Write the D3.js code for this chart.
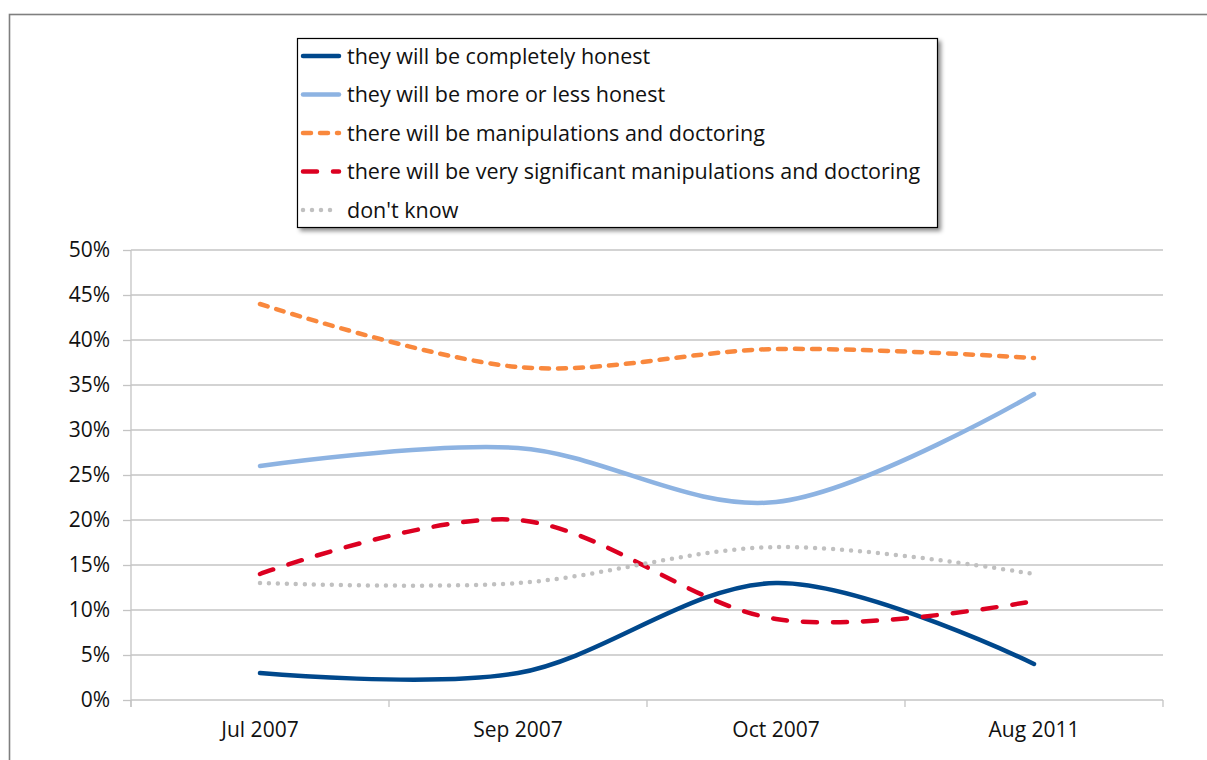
<!DOCTYPE html>
<html lang="en">
<head>
<meta charset="UTF-8">
<title>Election honesty expectations</title>
<script src="https://cdn.jsdelivr.net/npm/d3@7/dist/d3.min.js"></script>
<style>
    body { margin: 0; background: #fff; }
    svg { display: block; font-family: "Open Sans", "Noto Sans", sans-serif; }
    .grid line { stroke: #c4c4c4; stroke-width: 1.3px; }
    .axis path, .axis line { stroke: #c4c4c4; stroke-width: 1.3px; }
    .axis text { fill: #111; font-size: 21px; font-family: "Open Sans", "Noto Sans", sans-serif; }
</style>
</head>
<body>
<script>
    // chart data
    const categories = ['Jul 2007', 'Sep 2007', 'Oct 2007', 'Aug 2011'];
    const seriesNames = [
        'they will be completely honest',
        'they will be more or less honest',
        'there will be manipulations and doctoring',
        'there will be very significant manipulations and doctoring',
        "don't know"
    ];
    const completelyHonest = [3, 3, 13, 4];
    const moreOrLessHonest = [26, 28, 22, 34];
    const manipulations = [44, 37, 39, 38];
    const significantManipulations = [14, 20, 9, 11];
    const dontKnow = [13, 13, 17, 14];
    const yTicks = [0, 5, 10, 15, 20, 25, 30, 35, 40, 45, 50];

    const width = 1207;
    const height = 760;
    const plot = { left: 131, right: 1163, top: 250, bottom: 700 };

    // line styles for each series
    const styles = [
        { color: '#00488c', width: 4.5, dash: null },
        { color: '#8db3e2', width: 4.5, dash: null },
        { color: '#f9883d', width: 4.5, dash: '8,9' },
        { color: '#dc0021', width: 4.5, dash: '14,16' },
        { color: '#c0c0c0', width: 4.5, dash: '0,9' }
    ];
    const values = [completelyHonest, moreOrLessHonest, manipulations, significantManipulations, dontKnow];

    const svg = d3.select('body').append('svg')
        .attr('width', width)
        .attr('height', height);

    // outer frame
    svg.append('rect')
        .attr('x', 9.5).attr('y', 14.5)
        .attr('width', width + 20).attr('height', height + 20)
        .attr('fill', 'none')
        .attr('stroke', '#7f7f7f')
        .attr('stroke-width', 1.6);

    const x = d3.scaleBand()
        .domain(categories)
        .range([plot.left, plot.right]);

    const y = d3.scaleLinear()
        .domain([0, 50])
        .range([plot.bottom, plot.top]);

    // horizontal grid
    svg.append('g').attr('class', 'grid')
        .selectAll('line')
        .data(yTicks.filter(d => d > 0))
        .enter().append('line')
        .attr('x1', plot.left).attr('x2', plot.right)
        .attr('y1', d => y(d)).attr('y2', d => y(d));

    // y axis
    const yAxis = svg.append('g').attr('class', 'axis')
        .attr('transform', 'translate(' + plot.left + ',0)')
        .call(d3.axisLeft(y).tickValues(yTicks).tickSize(8).tickPadding(13).tickFormat(d => d + '%'));
    yAxis.attr('font-family', null).attr('font-size', null);
    yAxis.select('.domain').attr('d', 'M0,' + plot.top + 'V' + (plot.bottom + 7));

    // x axis, ticks between categories
    const xAxis = svg.append('g').attr('class', 'axis')
        .attr('transform', 'translate(0,' + plot.bottom + ')')
        .call(d3.axisBottom(x).tickSize(0).tickPadding(22));
    xAxis.attr('font-family', null).attr('font-size', null);
    xAxis.select('.domain').attr('d', 'M' + plot.left + ',0H' + plot.right);
    const bounds = categories.map(c => x(c)).concat([plot.right]);
    xAxis.selectAll('.sep')
        .data(bounds)
        .enter().append('line')
        .attr('class', 'sep')
        .attr('x1', d => d).attr('x2', d => d)
        .attr('y1', 0).attr('y2', 7);

    // series lines (smoothed like the spreadsheet original)
    const line = d3.line()
        .x((d, i) => x(categories[i]) + x.bandwidth() / 2)
        .y(d => y(d))
        .curve(d3.curveCardinal.tension(0));

    svg.append('g')
        .selectAll('path')
        .data(values)
        .enter().append('path')
        .attr('d', d => line(d))
        .attr('fill', 'none')
        .attr('stroke', (d, i) => styles[i].color)
        .attr('stroke-width', (d, i) => styles[i].width)
        .attr('stroke-dasharray', (d, i) => styles[i].dash)
        .attr('stroke-linecap', 'round');

    // legend
    const legend = { x: 297, y: 38, w: 640, h: 189 };
    const defs = svg.append('defs');
    const filter = defs.append('filter').attr('id', 'shadow')
        .attr('x', '-5%').attr('y', '-5%').attr('width', '115%').attr('height', '120%');
    filter.append('feDropShadow')
        .attr('dx', 3).attr('dy', 3).attr('stdDeviation', 2)
        .attr('flood-color', '#000').attr('flood-opacity', 0.45);

    const lg = svg.append('g').attr('transform', 'translate(' + legend.x + ',' + legend.y + ')');
    lg.append('rect')
        .attr('x', 0.5).attr('y', 0.5)
        .attr('width', legend.w).attr('height', legend.h)
        .attr('fill', '#fff')
        .attr('stroke', '#000')
        .attr('stroke-width', 1.2)
        .attr('filter', 'url(#shadow)');

    const rowY = d3.scalePoint().domain(d3.range(seriesNames.length)).range([18, 172]);
    const item = lg.selectAll('.item')
        .data(seriesNames)
        .enter().append('g')
        .attr('class', 'item')
        .attr('transform', (d, i) => 'translate(0,' + rowY(i) + ')');

    item.append('line')
        .attr('x1', 6).attr('x2', 42)
        .attr('y1', 0).attr('y2', 0)
        .attr('stroke', (d, i) => styles[i].color)
        .attr('stroke-width', (d, i) => styles[i].width)
        .attr('stroke-dasharray', (d, i) => styles[i].dash)
        .attr('stroke-linecap', 'round');

    item.append('text')
        .attr('x', 50)
        .attr('y', 0)
        .attr('dy', '0.35em')
        .style('font-size', '21.5px')
        .attr('fill', '#111')
        .text(d => d);
</script>
</body>
</html>
